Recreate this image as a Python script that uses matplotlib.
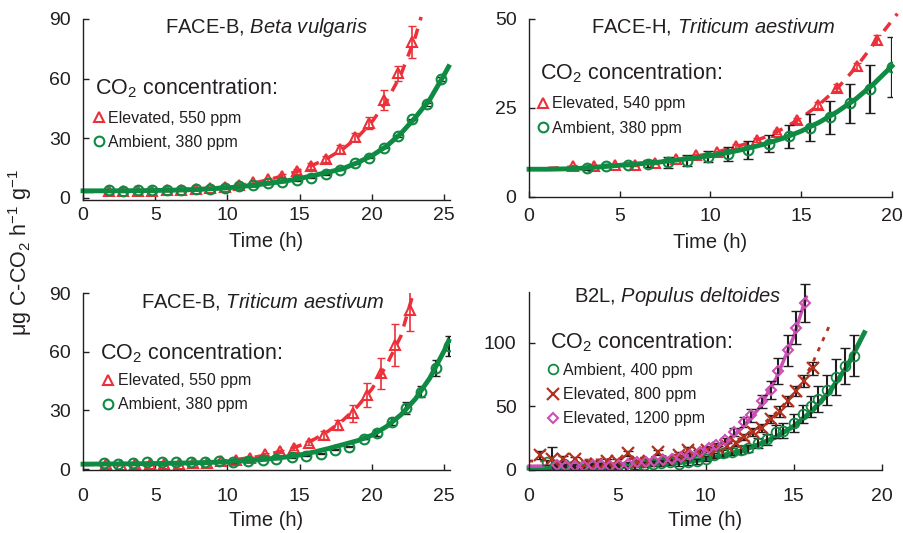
import matplotlib
matplotlib.use("Agg")
import matplotlib.pyplot as plt
from matplotlib.lines import Line2D

plt.rcParams['font.family'] = ['Liberation Sans', 'DejaVu Sans']
plt.rcParams['mathtext.fontset'] = 'custom'
plt.rcParams['mathtext.rm'] = 'Liberation Sans'
plt.rcParams['mathtext.it'] = 'Liberation Sans:italic'
plt.rcParams['text.color'] = '#231f20'

GREEN = '#0f8a43'
RED = '#ec2f38'
MAGENTA = '#cc4fb5'
DARKRED = '#b2321f'
INK = '#231f20'

# ---- panel A: FACE-B, Beta vulgaris
a_amb_t = [1.8, 2.8, 3.8, 4.8, 5.8, 6.8, 7.8, 8.8, 9.8, 10.8, 11.8, 12.8, 13.8, 14.8,
           15.8, 16.8, 17.8, 18.8, 19.8, 20.8, 21.8, 22.8, 23.8, 24.8]
a_amb_v = [3.8, 3.7, 3.8, 3.8, 3.9, 4.1, 4.3, 4.6, 5.2, 5.9, 6.7, 7.4, 8.2, 8.9,
           10.3, 12, 14.2, 17.4, 20.3, 25.3, 31.2, 39.5, 47.2, 59.6]
a_amb_e = [0.3] * 22 + [0.8, 1.0]
a_ele_t = [1.8, 2.8, 3.8, 4.8, 5.8, 6.8, 7.8, 8.8, 9.8, 10.8, 11.8, 12.8, 13.8, 14.8,
           15.8, 16.8, 17.8, 18.8, 19.8, 20.8, 21.8, 22.8]
a_ele_v = [3.5, 3.5, 3.6, 3.7, 3.9, 4.2, 4.6, 5.0, 5.6, 6.6, 7.8, 9.4, 11.2, 13.4,
           16.3, 19.6, 24.5, 30.8, 37.5, 49.2, 62.6, 78.6]
a_ele_e = [0.5] * 7 + [0.6, 0.6, 0.7, 0.8, 0.9, 1.0, 1.2, 1.5, 1.5, 2, 2, 3, 5, 4, 8]
a_fit_amb_t = [0, 2, 4, 6, 8, 10, 11, 12, 13, 14, 15, 16, 17, 18, 19, 20, 21, 22, 23, 24, 25, 25.3]
a_fit_amb_v = [3.6, 3.6, 3.7, 3.9, 4.3, 5.1, 5.8, 6.6, 7.5, 8.5, 9.8, 11.4, 13.0, 14.8,
               17.8, 21.3, 26, 32.4, 40.5, 49.5, 62, 66]
a_fit_ele_t = [0, 4, 8, 10, 11, 12, 13, 14, 15, 16, 17, 18, 19, 20, 21, 22, 23, 23.4]
a_fit_ele_v = [3.2, 3.6, 4.6, 5.6, 6.5, 7.8, 9.5, 11.5, 13.8, 16.8, 20.3, 24.7, 30.5,
               38.3, 48.5, 62, 81, 91]

# ---- panel B: FACE-H, Triticum aestivum
b_amb_t = [3.18, 4.25, 5.48, 6.54, 7.65, 8.73, 9.85, 10.94, 12.06, 13.24, 14.34, 15.46,
           16.56, 17.7, 18.8, 20.0]
b_amb_v = [8.2, 8.8, 9.1, 9.4, 9.7, 10.2, 11.3, 12.0, 13.3, 15.0, 17.1, 19.5, 22.4, 26.3,
           30.3, 36.4]
b_amb_e = [0.6, 0.5, 0.5, 1.0, 1.5, 1.5, 1.5, 2.0, 2.5, 2.5, 3.2, 3.9, 4.7, 5.5, 6.8, 8.4]
b_ele_t = [2.44, 3.6, 4.74, 5.85, 6.95, 8.09, 9.19, 10.35, 11.4, 12.56, 13.66, 14.76,
           15.9, 16.97, 18.07, 19.17]
b_ele_v = [8.7, 8.7, 9.1, 9.1, 9.6, 10.6, 11.7, 12.7, 14.4, 16.0, 18.3, 21.6, 25.8, 30.7,
           36.7, 44.2]
b_ele_e = [0.3] * 8 + [0.5, 0.6, 0.6, 0.7, 0.8, 0.9, 1.0, 1.2]
b_fit_amb_t = [0, 1, 2, 3, 4, 5, 6, 7, 8, 9, 10, 11, 12, 13, 14, 15, 16, 17, 18, 19, 20]
b_fit_amb_v = [7.8, 7.8, 7.9, 8.1, 8.5, 8.9, 9.3, 9.7, 10.3, 10.9, 11.6, 12.5, 13.6, 14.9,
               16.5, 18.5, 21, 24, 27.5, 31.8, 36.8]
b_fit_ele_t = [0, 2, 4, 6, 8, 10, 11, 12, 13, 14, 15, 16, 17, 18, 19, 20.3]
b_fit_ele_v = [7.8, 8.3, 8.8, 9.4, 10.4, 12.2, 13.5, 15.0, 16.8, 19.2, 22.2, 26, 30.6,
               36.3, 43, 51.5]

# ---- panel C: FACE-B, Triticum aestivum
c_amb_t = [1.47, 2.45, 3.44, 4.45, 5.48, 6.47, 7.45, 8.42, 9.4, 10.37, 11.4, 12.43, 13.39,
           14.45, 15.46, 16.44, 17.43, 18.39, 19.43, 20.34, 21.4, 22.36, 23.39, 24.4, 25.35]
c_amb_v = [3.1, 2.5, 3.1, 3.4, 3.4, 3.4, 3.4, 3.4, 3.9, 3.4, 4.2, 4.6, 5.1, 5.9, 6.8, 7.8,
           9.9, 11.5, 15.3, 18.3, 24.3, 31.1, 39.6, 51.8, 63]
c_amb_e = [0.2] * 19 + [1.5, 2, 3, 3, 4, 5]
c_ele_t = [1.6, 2.61, 3.6, 4.63, 5.62, 6.63, 7.61, 8.6, 9.56, 10.6, 11.58, 12.61, 13.62,
           14.6, 15.64, 16.67, 17.66, 18.67, 19.66, 20.64, 21.6, 22.64]
c_ele_v = [2.7, 2.2, 2.5, 2.5, 2.5, 2.5, 3.1, 3.1, 3.9, 4.8, 5.6, 7.6, 9.0, 10.7, 13.2,
           17.5, 22.6, 28.5, 37.9, 48.9, 63.3, 81.1]
c_ele_e = [0.3] * 10 + [0.4, 0.5, 0.6, 0.8, 1, 2, 2.4, 4.2, 6, 8, 10.8, 10.6]
c_fit_amb_t = [0, 4, 8, 10, 12, 13, 14, 15, 16, 17, 18, 19, 20, 21, 22, 23, 24, 25, 25.3]
c_fit_amb_v = [2.5, 2.7, 3.2, 3.7, 4.6, 5.3, 6.1, 7.2, 8.7, 10.5, 12.5, 14.5, 17.3, 21.7,
               27.7, 35.8, 46.5, 60.5, 65.5]
c_fit_ele_t = [0, 4, 8, 10, 12, 13, 14, 15, 16, 17, 18, 19, 20, 21, 22, 22.9]
c_fit_ele_v = [2.3, 2.6, 3.3, 4.3, 6.2, 7.8, 9.6, 12, 15.2, 19.5, 25, 32, 41, 53, 68, 91]

# ---- panel D: B2L, Populus deltoides
d_amb_t = [1.0, 1.5, 2.0, 2.5, 3.0, 3.5, 4.0, 4.5, 5.0, 5.5, 6.0, 6.5, 7.0, 7.5, 8.0, 8.5,
           9.0, 9.5, 10.0, 10.5, 11.0, 11.5, 12.0, 12.4, 13.0, 13.5, 14.0, 14.4, 15.0, 15.5,
           16.0, 16.4, 16.9, 17.4, 17.9, 18.4]
d_amb_v = [6, 3, 4.5, 3, 0.5, 3, 3.5, 3, 3, 0.5, 3, 4, 5, 5.5, 6, 5, 6, 7, 9, 11.5,
           13, 14.5, 15.5, 17, 21, 24, 30, 31, 37, 44, 50, 56, 63, 73, 82, 90]
d_amb_e = [2] * 20 + [2.5, 3, 3, 3, 4, 4, 5, 6, 7, 7, 8, 10, 12, 14, 14, 16]
d_800_t = [0.6, 1.3, 1.9, 2.6, 3.2, 3.8, 4.4, 5.0, 5.6, 6.2, 6.8, 7.3, 7.9, 8.5, 9.0, 9.6,
           10.1, 10.7, 11.2, 11.7, 12.2, 12.7, 13.2, 13.7, 14.2, 14.7, 15.1, 15.6, 16.1]
d_800_v = [12, 8.5, 9, 8.5, 5, 5, 7, 7, 13, 6, 7, 14, 8, 12, 16, 14, 16, 17, 19, 21, 26,
           30, 33, 40, 46, 54, 62, 70, 80]
d_800_e = [3, 9.5] + [2] * 18 + [2.5, 3, 3, 3, 4, 4, 4, 5, 5]
d_1200_t = [1.6, 2.1, 2.6, 3.1, 3.6, 4.1, 4.6, 5.1, 5.6, 6.1, 6.6, 7.1, 7.6, 8.1, 8.6, 9.1,
            9.7, 10.2, 10.6, 11.1, 11.6, 12.2, 12.6, 13.2, 13.7, 14.1, 14.7, 15.1, 15.65]
d_1200_v = [4, 3, 3, 3, 4, 4, 3, 4, 5, 6, 6, 7, 8, 9, 10, 12, 14, 17, 19.6, 23.6, 30, 38,
            43, 54, 63, 78, 94, 112, 131]
d_1200_e = [1.5] * 20 + [3, 4, 5, 5, 7, 10, 12, 13, 15]
d_fit_amb_t = [0, 2, 4, 6, 8, 9, 10, 11, 12, 13, 14, 15, 16, 17, 18, 19]
d_fit_amb_v = [1.5, 1.8, 2.3, 3.2, 5, 6.5, 8.5, 11.5, 15, 20, 26, 34.5, 46, 61, 81, 108]
d_fit_800_t = [0, 2, 4, 6, 8, 10, 11, 12, 13, 14, 15, 16, 17]
d_fit_800_v = [7, 7.5, 8, 9, 11, 15, 19, 25, 33, 45, 60, 82, 113]
d_fit_1200_t = [0, 2, 4, 6, 8, 10, 11, 12, 13, 14, 15, 15.7]
d_fit_1200_v = [3, 3.2, 4, 5.5, 8, 14, 21, 32, 48, 72, 105, 136]

fig = plt.figure(figsize=(9.04, 5.33), dpi=100)

open_circle = dict(marker='o', ms=7, mfc='none', mew=1.5, ls='none')
open_tri = dict(marker='^', ms=7, mfc='none', mew=1.5, ls='none')


def style_axes(ax, xmax, ymin, ymax, xticks, yticks, xpad, labelpad):
    ax.set_xlim(0, xmax)
    ax.set_ylim(ymin, ymax)
    ax.set_xticks(xticks)
    ax.set_yticks(yticks)
    for s in ['top', 'right']:
        ax.spines[s].set_visible(False)
    for s in ['left', 'bottom']:
        ax.spines[s].set_color(INK)
        ax.spines[s].set_linewidth(1.0)
    ax.tick_params(direction='in', length=4, width=1, colors=INK, labelsize=14)
    ax.tick_params(axis='x', pad=xpad)
    ax.tick_params(axis='y', pad=9)
    ax.set_xlabel('Time (h)', fontsize=14.5, color=INK, labelpad=labelpad)


def add_legend(ax, handles, labels, tx, ty, lx, ly):
    ax.text(tx, ty, 'CO$_2$ concentration:', transform=ax.transAxes, ha='left',
            va='center', fontsize=15.5, color=INK)
    ax.legend(handles, labels, loc='upper left', bbox_to_anchor=(lx, ly),
              frameon=False, fontsize=11.5, handlelength=0.6, handletextpad=0.3,
              labelspacing=0.58, borderaxespad=0, borderpad=0)


def title(ax, x, y, site, species):
    ax.text(x, y, site + ', $\\it{' + species.replace(' ', '\\ ') + '}$',
            transform=ax.transAxes, ha='center', va='center', fontsize=14.5, color=INK)


# Panel A
ax = fig.add_axes([0.0918, 0.6248, 0.406, 0.3396])
ax.errorbar(a_ele_t, a_ele_v, yerr=a_ele_e, fmt='none', ecolor=RED, elinewidth=1.2, capsize=3)
ax.plot(a_fit_ele_t, a_fit_ele_v, color=RED, lw=2.5, dashes=(3, 2.5), clip_on=False)
ax.plot(a_ele_t, a_ele_v, color=RED, **open_tri)
ax.errorbar(a_amb_t, a_amb_v, yerr=a_amb_e, fmt='none', ecolor=INK, elinewidth=1.2, capsize=3)
ax.plot(a_fit_amb_t, a_fit_amb_v, color=GREEN, lw=3.5, clip_on=False)
ax.plot(a_amb_t, a_amb_v, color=GREEN, **open_circle)
style_axes(ax, 25.4, -1, 90, [0, 5, 10, 15, 20, 25], [0, 30, 60, 90], 5, 6)
title(ax, 0.50, 0.955, 'FACE-B', 'Beta vulgaris')
add_legend(ax, [Line2D([], [], color=RED, **open_tri), Line2D([], [], color=GREEN, **open_circle)],
           ['Elevated, 550 ppm', 'Ambient, 380 ppm'], 0.033, 0.619, 0.03, 0.493)

# Panel B
ax = fig.add_axes([0.5852, 0.6304, 0.4015, 0.334])
ax.errorbar(b_ele_t, b_ele_v, yerr=b_ele_e, fmt='none', ecolor=RED, elinewidth=1.2, capsize=3)
ax.plot(b_fit_ele_t, b_fit_ele_v, color=RED, lw=2.5, dashes=(3, 2.5), clip_on=False)
ax.plot(b_ele_t, b_ele_v, color=RED, **open_tri)
ax.errorbar(b_amb_t, b_amb_v, yerr=b_amb_e, fmt='none', ecolor=INK, elinewidth=1.6, capsize=3.5)
ax.plot(b_fit_amb_t, b_fit_amb_v, color=GREEN, lw=3.5, clip_on=False)
ax.plot(b_amb_t, b_amb_v, color=GREEN, **open_circle)
style_axes(ax, 20, 0, 50, [0, 5, 10, 15, 20], [0, 25, 50], 8, 6)
title(ax, 0.507, 0.96, 'FACE-H', 'Triticum aestivum')
add_legend(ax, [Line2D([], [], color=RED, **open_tri), Line2D([], [], color=GREEN, **open_circle)],
           ['Elevated, 540 ppm', 'Ambient, 380 ppm'], 0.03, 0.697, 0.025, 0.566)

# Panel C
ax = fig.add_axes([0.0918, 0.1182, 0.406, 0.332])
ax.errorbar(c_ele_t, c_ele_v, yerr=c_ele_e, fmt='none', ecolor=RED, elinewidth=1.2, capsize=3)
ax.plot(c_fit_ele_t, c_fit_ele_v, color=RED, lw=2.5, dashes=(3, 2.5), clip_on=False)
ax.plot(c_ele_t, c_ele_v, color=RED, **open_tri)
ax.errorbar(c_amb_t, c_amb_v, yerr=c_amb_e, fmt='none', ecolor=INK, elinewidth=1.6, capsize=3)
ax.plot(c_fit_amb_t, c_fit_amb_v, color=GREEN, lw=3.5, clip_on=False)
ax.plot(c_amb_t, c_amb_v, color=GREEN, **open_circle)
style_axes(ax, 25.4, -0.5, 90, [0, 5, 10, 15, 20, 25], [0, 30, 60, 90], 13, 4)
title(ax, 0.49, 0.955, 'FACE-B', 'Triticum aestivum')
add_legend(ax, [Line2D([], [], color=RED, **open_tri), Line2D([], [], color=GREEN, **open_circle)],
           ['Elevated, 550 ppm', 'Ambient, 380 ppm'], 0.046, 0.661, 0.055, 0.547)

# Panel D
ax = fig.add_axes([0.5852, 0.1182, 0.3905, 0.334])
ax.plot(d_fit_amb_t, d_fit_amb_v, color=GREEN, lw=3.5, clip_on=False)
ax.plot(d_fit_800_t, d_fit_800_v, color=DARKRED, lw=2.0, dashes=(1.5, 2.5), clip_on=False)
ax.plot(d_fit_1200_t, d_fit_1200_v, color=MAGENTA, lw=2.5, clip_on=False)
ax.errorbar(d_amb_t, d_amb_v, yerr=d_amb_e, fmt='none', ecolor=INK, elinewidth=1.5, capsize=3.5)
ax.errorbar(d_800_t, d_800_v, yerr=d_800_e, fmt='none', ecolor=INK, elinewidth=1.5, capsize=3.5)
ax.errorbar(d_1200_t, d_1200_v, yerr=d_1200_e, fmt='none', ecolor=INK, elinewidth=1.5,
            capsize=3.5, clip_on=False)
ax.plot(d_amb_t, d_amb_v, color=GREEN, marker='o', ms=7, mfc='none', mew=1.3, ls='none')
ax.plot(d_800_t, d_800_v, color=DARKRED, marker='x', ms=8, mew=1.6, ls='none')
ax.plot(d_1200_t, d_1200_v, color=MAGENTA, marker='D', ms=5.5, mfc='none', mew=1.5, ls='none')
style_axes(ax, 20, 0, 140, [0, 5, 10, 15, 20], [0, 50, 100], 13, 4)
title(ax, 0.422, 0.975, 'B2L', 'Populus deltoides')
add_legend(ax, [Line2D([], [], color=GREEN, marker='o', ms=7, mfc='none', mew=1.3, ls='none'),
                Line2D([], [], color=DARKRED, marker='x', ms=8, mew=1.6, ls='none'),
                Line2D([], [], color=MAGENTA, marker='D', ms=5.5, mfc='none', mew=1.5, ls='none')],
           ['Ambient, 400 ppm', 'Elevated, 800 ppm', 'Elevated, 1200 ppm'],
           0.06, 0.719, 0.055, 0.602)

fig.text(0.022, 0.527, 'μg C-CO$_2$ h$^{-1}$ g$^{-1}$', rotation=90, ha='center', va='center',
         fontsize=15.5, color=INK)

fig.savefig('out.png', dpi=100)
